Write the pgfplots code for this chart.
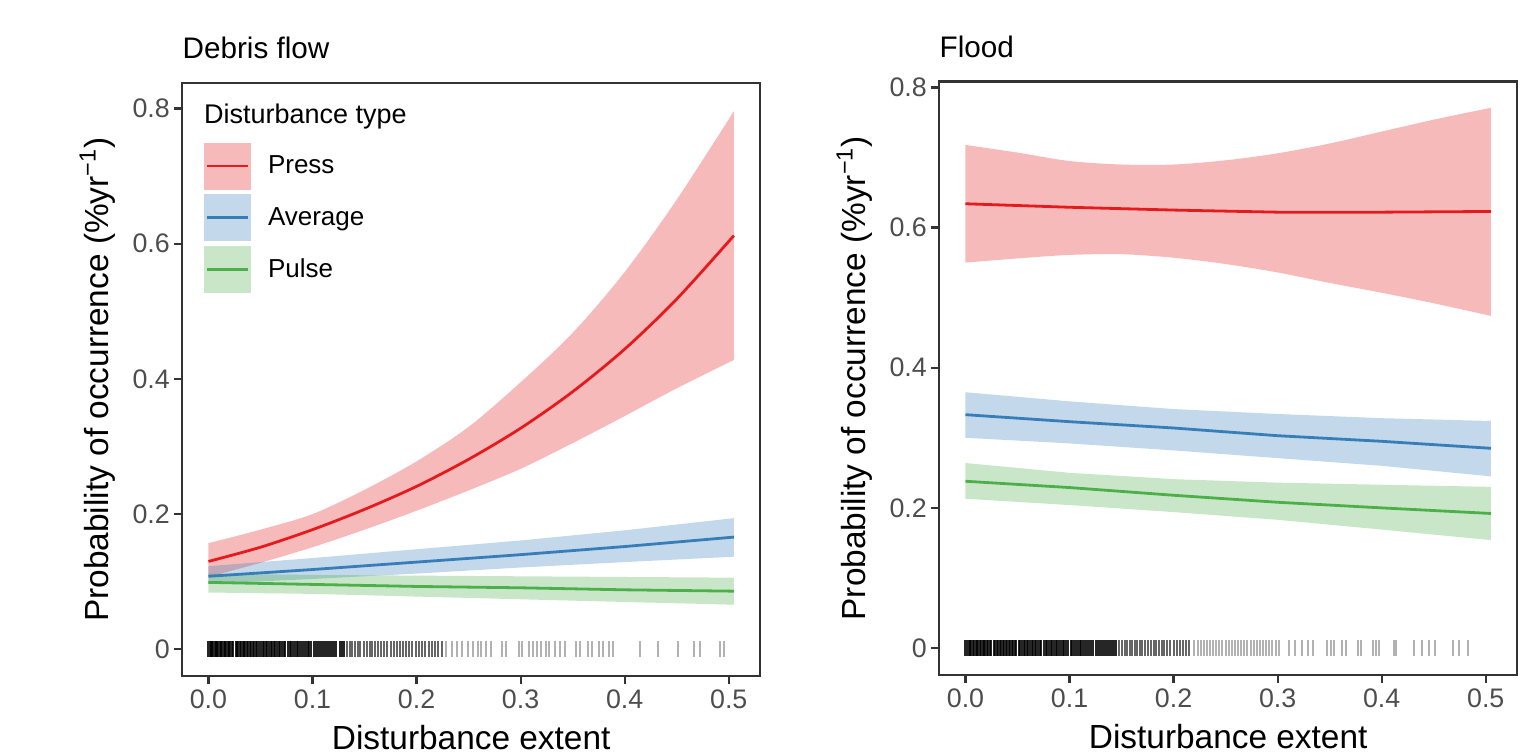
\documentclass[border=0pt]{standalone}
\usepackage{fontspec}
\setmainfont{Liberation Sans}
\usepackage{pgfplots}
\pgfplotsset{compat=1.18}
\usepgfplotslibrary{fillbetween}

\definecolor{cpress}{RGB}{228,26,28}
\definecolor{cavg}{RGB}{55,126,184}
\definecolor{cpulse}{RGB}{77,175,74}
\definecolor{axisgray}{RGB}{51,51,51}
\definecolor{tickgray}{RGB}{77,77,77}

\pgfplotsset{
  panel/.style={
    width=289pt, height=296.75pt, scale only axis,
    anchor=south west,
    xmin=-0.02525, xmax=0.53025,
    xtick={0,0.1,0.2,0.3,0.4,0.5},
    xticklabels={0.0,0.1,0.2,0.3,0.4,0.5},
    ytick={0,0.2,0.4,0.6,0.8},
    yticklabels={0,0.2,0.4,0.6,0.8},
    tick align=outside, tick pos=left,
    major tick length=4pt,
    axis line style={axisgray, line width=1.1pt},
    every tick/.style={axisgray, line width=1.1pt},
    tick label style={font=\fontsize{13.4}{16}\selectfont, text=tickgray, inner sep=0pt},
    xticklabel shift=2.5pt, yticklabel shift=2pt,
    xlabel={Disturbance extent},
    ylabel={Probability of occurrence (\%yr\textsuperscript{−1})},
    label style={font=\fontsize{16.7}{20}\selectfont},
    xlabel style={at={(axis description cs:0.5,-0.124)}, anchor=base, inner sep=0pt},
    ylabel style={at={(axis description cs:-0.128,0.5)}, anchor=base, inner sep=0pt},
    title style={at={(axis description cs:0,1)}, anchor=base west, yshift=6.2pt,
                 inner sep=0pt, font=\fontsize{14.85}{18}\selectfont},
  },
  ribbon/.style={draw=none, fill=#1, fill opacity=0.3, forget plot},
  edge/.style={draw=none, smooth, forget plot},
  fit/.style={draw=#1, line width=1.4pt, no markers},
  rug/.style={only marks, mark=|, mark size=3.95pt, black,
              mark options={line width=1pt}, opacity=#1, forget plot},
  key/.style={legend image code/.code={
      \path[draw=none, fill=#1, fill opacity=0.3] (0pt,-11.75pt) rectangle (23.5pt,11.75pt);
      \path[draw=#1, line width=1.4pt] (1.6pt,0pt) -- (21.9pt,0pt);}},
}

\begin{document}
\begin{tikzpicture}

% ---------------- Debris flow ----------------
\begin{axis}[panel, at={(91.1pt,39.35pt)},
  ymin=-0.0399, ymax=0.8379,
  title={Debris flow},
  legend cell align=left,
  legend style={at={(axis description cs:0.0372,0.8994)}, anchor=north west,
    draw=none, fill=none, inner sep=0pt, outer sep=0pt,
    row sep=2.4pt, column sep=8.65pt,
    font=\fontsize{13}{15}\selectfont, nodes={inner sep=0pt}},
]
% ribbons
\addplot[edge, name path=pu] coordinates {
  (0,0.157)(0.05,0.177)(0.1,0.200)(0.15,0.236)(0.2,0.278)(0.25,0.329)(0.3,0.395)
  (0.35,0.468)(0.4,0.558)(0.45,0.665)(0.505,0.796)};
\addplot[edge, name path=pl] coordinates {
  (0,0.107)(0.05,0.128)(0.1,0.151)(0.15,0.177)(0.2,0.205)(0.25,0.235)(0.3,0.267)
  (0.35,0.305)(0.4,0.345)(0.45,0.386)(0.505,0.428)};
\addplot[ribbon=cpress] fill between[of=pu and pl];
\addplot[ribbon=cavg] coordinates {
  (0,0.123)(0.1,0.135)(0.2,0.148)(0.3,0.161)(0.4,0.176)(0.505,0.194)
  (0.505,0.137)(0.4,0.129)(0.3,0.121)(0.2,0.112)(0.1,0.104)(0,0.097)} -- cycle;
\addplot[ribbon=cpulse] coordinates {
  (0,0.112)(0.1,0.110)(0.2,0.109)(0.3,0.108)(0.4,0.107)(0.505,0.106)
  (0.505,0.066)(0.4,0.070)(0.3,0.074)(0.2,0.078)(0.1,0.082)(0,0.084)} -- cycle;
% fitted lines
\addplot[fit=cpress, smooth, key=cpress] coordinates {
  (0,0.130)(0.05,0.151)(0.1,0.177)(0.15,0.207)(0.2,0.241)(0.25,0.281)(0.3,0.327)
  (0.35,0.381)(0.4,0.444)(0.45,0.518)(0.505,0.612)};
\addlegendentry{Press}
\addplot[fit=cavg, key=cavg] coordinates {
  (0,0.108)(0.1,0.118)(0.2,0.129)(0.3,0.140)(0.4,0.152)(0.505,0.166)};
\addlegendentry{Average}
\addplot[fit=cpulse, key=cpulse] coordinates {
  (0,0.099)(0.1,0.096)(0.2,0.093)(0.3,0.091)(0.4,0.088)(0.505,0.086)};
\addlegendentry{Pulse}
% rug of observed extents
\addplot[rug=0.85] coordinates {
  (0.000,0)(0.001,0)(0.002,0)(0.003,0)(0.004,0)(0.006,0)(0.007,0)(0.008,0)(0.009,0)(0.011,0)
  (0.012,0)(0.013,0)(0.015,0)(0.016,0)(0.017,0)(0.019,0)(0.020,0)(0.021,0)(0.023,0)(0.024,0)
  (0.026,0)(0.027,0)(0.028,0)(0.030,0)(0.031,0)(0.033,0)(0.034,0)(0.035,0)(0.037,0)(0.038,0)
  (0.040,0)(0.041,0)(0.043,0)(0.044,0)(0.046,0)(0.047,0)(0.049,0)(0.050,0)(0.052,0)(0.053,0)
  (0.055,0)(0.056,0)(0.058,0)(0.060,0)(0.061,0)(0.063,0)(0.064,0)(0.066,0)(0.068,0)(0.069,0)
  (0.071,0)(0.073,0)(0.074,0)(0.076,0)(0.078,0)(0.079,0)(0.081,0)(0.083,0)(0.085,0)(0.086,0)
  (0.088,0)(0.090,0)(0.092,0)(0.094,0)(0.096,0)(0.097,0)(0.099,0)(0.101,0)(0.103,0)(0.105,0)
  (0.107,0)(0.109,0)(0.111,0)(0.113,0)(0.115,0)(0.117,0)(0.119,0)(0.121,0)(0.123,0)(0.126,0)
  (0.128,0)(0.130,0)};
\addplot[rug=0.6] coordinates {
  (0.133,0)(0.136,0)(0.138,0)(0.141,0)(0.144,0)(0.146,0)(0.149,0)(0.152,0)(0.155,0)(0.157,0)
  (0.160,0)(0.163,0)(0.166,0)(0.169,0)(0.172,0)(0.175,0)(0.178,0)(0.181,0)(0.184,0)(0.187,0)
  (0.190,0)(0.193,0)(0.196,0)(0.199,0)(0.202,0)(0.205,0)(0.208,0)(0.212,0)(0.215,0)(0.218,0)
  (0.221,0)(0.224,0)};
\addplot[rug=0.3] coordinates {
  (0.228,0)(0.234,0)(0.239,0)(0.244,0)(0.249,0)(0.254,0)(0.259,0)(0.262,0)(0.267,0)(0.272,0)
  (0.282,0)(0.286,0)(0.298,0)(0.301,0)(0.308,0)(0.312,0)(0.316,0)(0.320,0)(0.324,0)(0.327,0)
  (0.333,0)(0.338,0)(0.343,0)(0.353,0)(0.357,0)(0.365,0)(0.369,0)(0.375,0)(0.379,0)(0.385,0)
  (0.389,0)(0.415,0)(0.432,0)(0.451,0)(0.467,0)(0.472,0)(0.492,0)(0.495,0)};
\node[anchor=base west, inner sep=0pt, font=\fontsize{13.5}{16}\selectfont]
  at (axis description cs:0.0372,0.9309) {Disturbance type};
\end{axis}

% ---------------- Flood ----------------
\begin{axis}[panel, at={(469.6pt,40pt)},
  ymin=-0.0385, ymax=0.8085,
  title={Flood},
]
\addplot[edge, name path=fu] coordinates {
  (0,0.718)(0.05,0.707)(0.1,0.695)(0.15,0.690)(0.2,0.690)(0.25,0.696)(0.3,0.706)
  (0.35,0.720)(0.4,0.737)(0.45,0.754)(0.505,0.771)};
\addplot[edge, name path=fl] coordinates {
  (0,0.550)(0.05,0.556)(0.1,0.561)(0.15,0.562)(0.2,0.557)(0.25,0.548)(0.3,0.536)
  (0.35,0.521)(0.4,0.507)(0.45,0.492)(0.505,0.474)};
\addplot[ribbon=cpress] fill between[of=fu and fl];
\addplot[ribbon=cavg] coordinates {
  (0,0.365)(0.1,0.352)(0.2,0.341)(0.3,0.334)(0.4,0.328)(0.505,0.324)
  (0.505,0.245)(0.4,0.260)(0.3,0.271)(0.2,0.282)(0.1,0.292)(0,0.300)} -- cycle;
\addplot[ribbon=cpulse] coordinates {
  (0,0.264)(0.1,0.250)(0.2,0.241)(0.3,0.236)(0.4,0.233)(0.505,0.230)
  (0.505,0.154)(0.4,0.169)(0.3,0.183)(0.2,0.194)(0.1,0.204)(0,0.213)} -- cycle;
\addplot[fit=cpress] coordinates {
  (0,0.634)(0.1,0.629)(0.2,0.625)(0.3,0.622)(0.4,0.622)(0.505,0.623)};
\addplot[fit=cavg] coordinates {
  (0,0.333)(0.1,0.323)(0.2,0.314)(0.3,0.303)(0.4,0.295)(0.505,0.285)};
\addplot[fit=cpulse] coordinates {
  (0,0.238)(0.1,0.229)(0.2,0.218)(0.3,0.208)(0.4,0.200)(0.505,0.192)};
\addplot[rug=0.85] coordinates {
  (0.000,0)(0.001,0)(0.003,0)(0.004,0)(0.005,0)(0.007,0)(0.008,0)(0.010,0)(0.011,0)(0.012,0)
  (0.014,0)(0.015,0)(0.017,0)(0.018,0)(0.019,0)(0.021,0)(0.022,0)(0.024,0)(0.025,0)(0.027,0)
  (0.028,0)(0.030,0)(0.031,0)(0.033,0)(0.034,0)(0.036,0)(0.037,0)(0.039,0)(0.040,0)(0.042,0)
  (0.043,0)(0.045,0)(0.046,0)(0.048,0)(0.049,0)(0.051,0)(0.052,0)(0.054,0)(0.056,0)(0.057,0)
  (0.059,0)(0.060,0)(0.062,0)(0.064,0)(0.065,0)(0.067,0)(0.068,0)(0.070,0)(0.072,0)(0.073,0)
  (0.075,0)(0.077,0)(0.078,0)(0.080,0)(0.082,0)(0.083,0)(0.085,0)(0.087,0)(0.088,0)(0.090,0)
  (0.092,0)(0.094,0)(0.095,0)(0.097,0)(0.099,0)(0.101,0)(0.102,0)(0.104,0)(0.106,0)(0.108,0)
  (0.110,0)(0.111,0)(0.113,0)(0.115,0)(0.117,0)(0.119,0)(0.121,0)(0.123,0)(0.125,0)(0.127,0)
  (0.129,0)(0.131,0)(0.133,0)(0.135,0)(0.137,0)(0.139,0)(0.141,0)(0.143,0)(0.145,0)};
\addplot[rug=0.6] coordinates {
  (0.148,0)(0.150,0)(0.153,0)(0.155,0)(0.158,0)(0.160,0)(0.163,0)(0.165,0)(0.168,0)(0.170,0)
  (0.173,0)(0.175,0)(0.178,0)(0.181,0)(0.183,0)(0.186,0)(0.189,0)(0.191,0)(0.194,0)(0.197,0)
  (0.200,0)(0.203,0)(0.206,0)(0.209,0)(0.212,0)(0.215,0)};
\addplot[rug=0.3] coordinates {
  (0.220,0)(0.223,0)(0.226,0)(0.229,0)(0.232,0)(0.235,0)(0.238,0)(0.241,0)(0.244,0)(0.247,0)
  (0.250,0)(0.253,0)(0.256,0)(0.259,0)(0.262,0)(0.265,0)(0.268,0)(0.271,0)(0.274,0)(0.277,0)
  (0.280,0)(0.283,0)(0.286,0)(0.289,0)(0.292,0)(0.295,0)(0.298,0)(0.301,0)
  (0.311,0)(0.317,0)(0.323,0)(0.329,0)(0.334,0)(0.347,0)(0.351,0)(0.354,0)(0.362,0)(0.366,0)
  (0.377,0)(0.380,0)(0.392,0)(0.395,0)(0.397,0)(0.412,0)(0.414,0)(0.431,0)(0.439,0)(0.445,0)
  (0.451,0)(0.469,0)(0.474,0)(0.483,0)};
\end{axis}

\pgfresetboundingbox
\path[use as bounding box] (0pt,0pt) rectangle (766pt,377.5pt);
\end{tikzpicture}
\end{document}
